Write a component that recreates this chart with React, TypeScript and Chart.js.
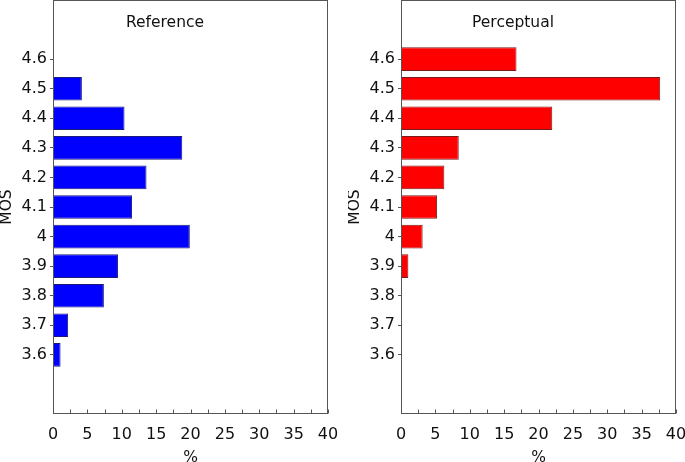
import React, { useEffect, useRef } from 'react';
import { Chart, registerables } from 'chart.js';

Chart.register(...registerables);

// ---- data ----
const mosLevels = [4.6, 4.5, 4.4, 4.3, 4.2, 4.1, 4.0, 3.9, 3.8, 3.7, 3.6];
const referencePercent = [0, 4.2, 10.4, 18.8, 13.6, 11.5, 19.9, 9.45, 7.4, 2.2, 1.1];
const perceptualPercent = [16.8, 37.7, 22.0, 8.4, 6.3, 5.25, 3.15, 1.07, 0, 0, 0];
const mosAxisRange = [3.4, 4.8];
const percentAxisRange = [0, 40];
const percentMajorStep = 5;
const percentMinorStep = 2.5;

const AXIS = '#555555';
const TEXT = '#111111';
const FONT = '"DejaVu Sans", Verdana, sans-serif';

const framePlugin = {
  id: 'frameAndTitle',
  afterDraw(chart: any) {
    const { ctx, chartArea: a } = chart;
    const xs = chart.scales.x;
    ctx.save();
    ctx.strokeStyle = AXIS;
    ctx.lineWidth = 1;
    const l = Math.round(a.left) + 0.5;
    const t = Math.round(a.top) + 0.5;
    const r = Math.round(a.right) - 0.5;
    const b = Math.round(a.bottom) - 0.5;
    ctx.strokeRect(l, t, r - l, b - t);
    // inward tick marks on the x axis
    for (let v = xs.min; v <= xs.max + 1e-9; v += percentMinorStep) {
      const px = Math.round(xs.getPixelForValue(v)) + 0.5;
      ctx.beginPath();
      ctx.moveTo(px, b);
      ctx.lineTo(px, b - 4);
      ctx.stroke();
    }
    // panel title inside the frame
    const title = chart.options.plugins.panelTitle?.text ?? '';
    ctx.fillStyle = TEXT;
    ctx.font = `15.5px ${FONT}`;
    ctx.textAlign = 'center';
    ctx.textBaseline = 'middle';
    ctx.fillText(title, chart.width / 2 - 4, a.top + 23);
    ctx.restore();
  },
};

function makeConfig(title: string, values: number[], fill: string, border: string): any {
  return {
    type: 'bar',
    data: {
      datasets: [
        {
          data: mosLevels.map((m, i) => ({ x: values[i], y: m })),
          backgroundColor: fill,
          borderColor: border,
          borderWidth: 1,
          barPercentage: 1,
          categoryPercentage: 0.8,
        },
      ],
    },
    options: {
      indexAxis: 'y',
      responsive: false,
      animation: false,
      layout: { padding: { top: 0, left: 0, right: 0, bottom: 0 } },
      plugins: {
        legend: { display: false },
        tooltip: { enabled: false },
        panelTitle: { text: title },
      },
      scales: {
        x: {
          type: 'linear',
          min: percentAxisRange[0],
          max: percentAxisRange[1],
          offset: false,
          grid: { display: false },
          border: { display: false },
          ticks: {
            stepSize: percentMajorStep,
            color: TEXT,
            font: { family: FONT, size: 16 },
            padding: 3,
            maxRotation: 0,
            autoSkip: false,
          },
          title: {
            display: true,
            text: '%',
            color: TEXT,
            font: { family: FONT, size: 15.5, lineHeight: 1 },
            padding: { top: 0, bottom: -4 },
          },
          afterFit(scale: any) {
            scale.height = 48;
            scale.paddingLeft = 0;
            scale.paddingRight = 10;
          },
        },
        y: {
          type: 'linear',
          min: mosAxisRange[0],
          max: mosAxisRange[1],
          offset: false,
          grid: {
            drawOnChartArea: false,
            drawTicks: true,
            tickLength: 3,
            tickColor: AXIS,
            offset: false,
          },
          border: { display: false },
          afterBuildTicks(scale: any) {
            scale.ticks = mosLevels.map((v) => ({ value: v }));
          },
          ticks: {
            color: TEXT,
            font: { family: FONT, size: 16 },
            padding: 3,
            autoSkip: false,
            callback: (v: number) => String(Number(Number(v).toFixed(1))),
          },
          title: {
            display: true,
            text: 'MOS',
            color: TEXT,
            font: { family: FONT, size: 15.5, lineHeight: 1 },
            padding: { top: -1, bottom: 0 },
          },
          afterFit(scale: any) {
            scale.width = 53;
            scale.paddingTop = 0;
            scale.paddingBottom = 0;
          },
        },
      },
    },
    plugins: [framePlugin],
  };
}

function Panel(props: { title: string; values: number[]; fill: string; border: string; left: number }) {
  const ref = useRef<HTMLCanvasElement | null>(null);
  useEffect(() => {
    if (!ref.current) return;
    const chart = new Chart(ref.current, makeConfig(props.title, props.values, props.fill, props.border));
    return () => chart.destroy();
  }, []);
  return (
    <canvas
      ref={ref}
      width={338}
      height={462}
      style={{ position: 'absolute', left: props.left, top: 0, width: 338, height: 462 }}
    />
  );
}

export default function App() {
  return (
    <div style={{ position: 'fixed', left: 0, top: 0, width: 685, height: 462, background: '#ffffff', overflow: 'hidden' }}>
      <Panel title="Reference" values={referencePercent} fill="#0000ff" border="#1a1a7a" left={0} />
      <Panel title="Perceptual" values={perceptualPercent} fill="#ff0000" border="#7a1a1a" left={348} />
    </div>
  );
}
